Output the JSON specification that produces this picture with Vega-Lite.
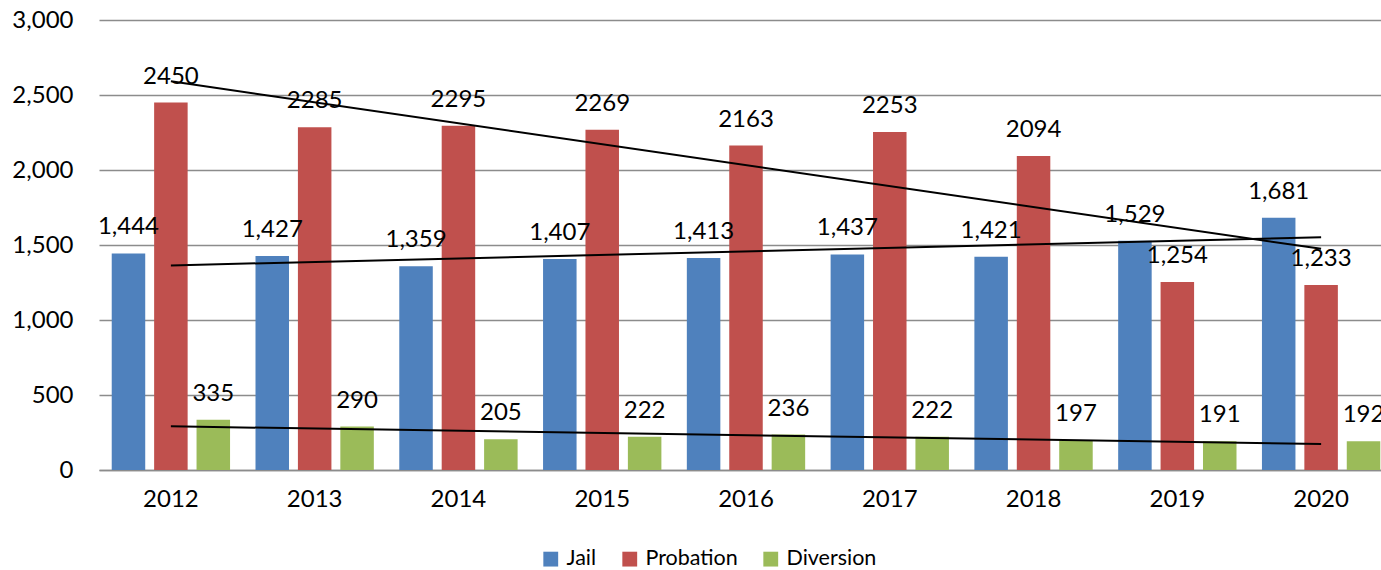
{
  "$schema": "https://vega.github.io/schema/vega-lite/v6.json",
  "width": 1282,
  "height": 450,
  "autosize": {"type": "none"},
  "padding": {"left": 99, "top": 20, "right": 0, "bottom": 100},
  "background": "white",
  "config": {
    "font": "Lato",
    "view": {"stroke": null},
    "axis": {"labelFont": "Lato", "labelColor": "#000000", "ticks": false, "title": null}
  },
  "data": {
    "values": [
      {"year": 2012, "series": "Jail", "value": 1444, "label": "1,444"},
      {"year": 2012, "series": "Probation", "value": 2450, "label": "2450"},
      {"year": 2012, "series": "Diversion", "value": 335, "label": "335"},
      {"year": 2013, "series": "Jail", "value": 1427, "label": "1,427"},
      {"year": 2013, "series": "Probation", "value": 2285, "label": "2285"},
      {"year": 2013, "series": "Diversion", "value": 290, "label": "290"},
      {"year": 2014, "series": "Jail", "value": 1359, "label": "1,359"},
      {"year": 2014, "series": "Probation", "value": 2295, "label": "2295"},
      {"year": 2014, "series": "Diversion", "value": 205, "label": "205"},
      {"year": 2015, "series": "Jail", "value": 1407, "label": "1,407"},
      {"year": 2015, "series": "Probation", "value": 2269, "label": "2269"},
      {"year": 2015, "series": "Diversion", "value": 222, "label": "222"},
      {"year": 2016, "series": "Jail", "value": 1413, "label": "1,413"},
      {"year": 2016, "series": "Probation", "value": 2163, "label": "2163"},
      {"year": 2016, "series": "Diversion", "value": 236, "label": "236"},
      {"year": 2017, "series": "Jail", "value": 1437, "label": "1,437"},
      {"year": 2017, "series": "Probation", "value": 2253, "label": "2253"},
      {"year": 2017, "series": "Diversion", "value": 222, "label": "222"},
      {"year": 2018, "series": "Jail", "value": 1421, "label": "1,421"},
      {"year": 2018, "series": "Probation", "value": 2094, "label": "2094"},
      {"year": 2018, "series": "Diversion", "value": 197, "label": "197"},
      {"year": 2019, "series": "Jail", "value": 1529, "label": "1,529"},
      {"year": 2019, "series": "Probation", "value": 1254, "label": "1,254"},
      {"year": 2019, "series": "Diversion", "value": 191, "label": "191"},
      {"year": 2020, "series": "Jail", "value": 1681, "label": "1,681"},
      {"year": 2020, "series": "Probation", "value": 1233, "label": "1,233"},
      {"year": 2020, "series": "Diversion", "value": 192, "label": "192"}
    ]
  },
  "encoding": {
    "x": {
      "field": "year",
      "type": "ordinal",
      "scale": {"range": [0, 1294], "paddingInner": 0, "paddingOuter": 0},
      "axis": {
        "labelAngle": 0,
        "labelFontSize": 24,
        "labelPadding": 17,
        "domainColor": "#8c8c8c",
        "domainWidth": 1.5,
        "grid": false
      }
    },
    "y": {
      "field": "value",
      "type": "quantitative",
      "scale": {"domain": [0, 3000], "nice": false},
      "axis": {
        "values": [0, 500, 1000, 1500, 2000, 2500, 3000],
        "format": ",d",
        "labelFontSize": 24,
        "labelPadding": 26,
        "domain": false,
        "gridColor": "#8c8c8c",
        "gridWidth": 1.5
      }
    }
  },
  "layer": [
    {
      "mark": {"type": "bar"},
      "encoding": {
        "xOffset": {
          "field": "series",
          "type": "nominal",
          "sort": ["Jail", "Probation", "Diversion"],
          "scale": {"paddingInner": 0.21, "paddingOuter": 0.3}
        },
        "color": {
          "field": "series",
          "type": "nominal",
          "scale": {
            "domain": ["Jail", "Probation", "Diversion"],
            "range": ["#4F81BD", "#C0504D", "#9BBB59"]
          },
          "legend": {
            "title": null,
            "orient": "none",
            "direction": "horizontal",
            "legendX": 441,
            "legendY": 528,
            "symbolType": "square",
            "symbolSize": 220,
            "symbolStrokeWidth": 0,
            "labelFontSize": 21.5,
            "labelOffset": 5,
            "columnPadding": 22,
            "labelColor": "#000000"
          }
        }
      }
    },
    {
      "mark": {"type": "text", "baseline": "alphabetic", "dy": -19, "fontSize": 24, "color": "#000000"},
      "encoding": {
        "xOffset": {
          "field": "series",
          "type": "nominal",
          "sort": ["Jail", "Probation", "Diversion"],
          "scale": {"paddingInner": 0.21, "paddingOuter": 0.3}
        },
        "text": {"field": "label"}
      }
    },
    {
      "transform": [
        {"regression": "value", "on": "year", "groupby": ["series"], "method": "linear"}
      ],
      "mark": {"type": "line", "color": "#000000", "strokeWidth": 2},
      "encoding": {
        "detail": {"field": "series"}
      }
    }
  ]
}
